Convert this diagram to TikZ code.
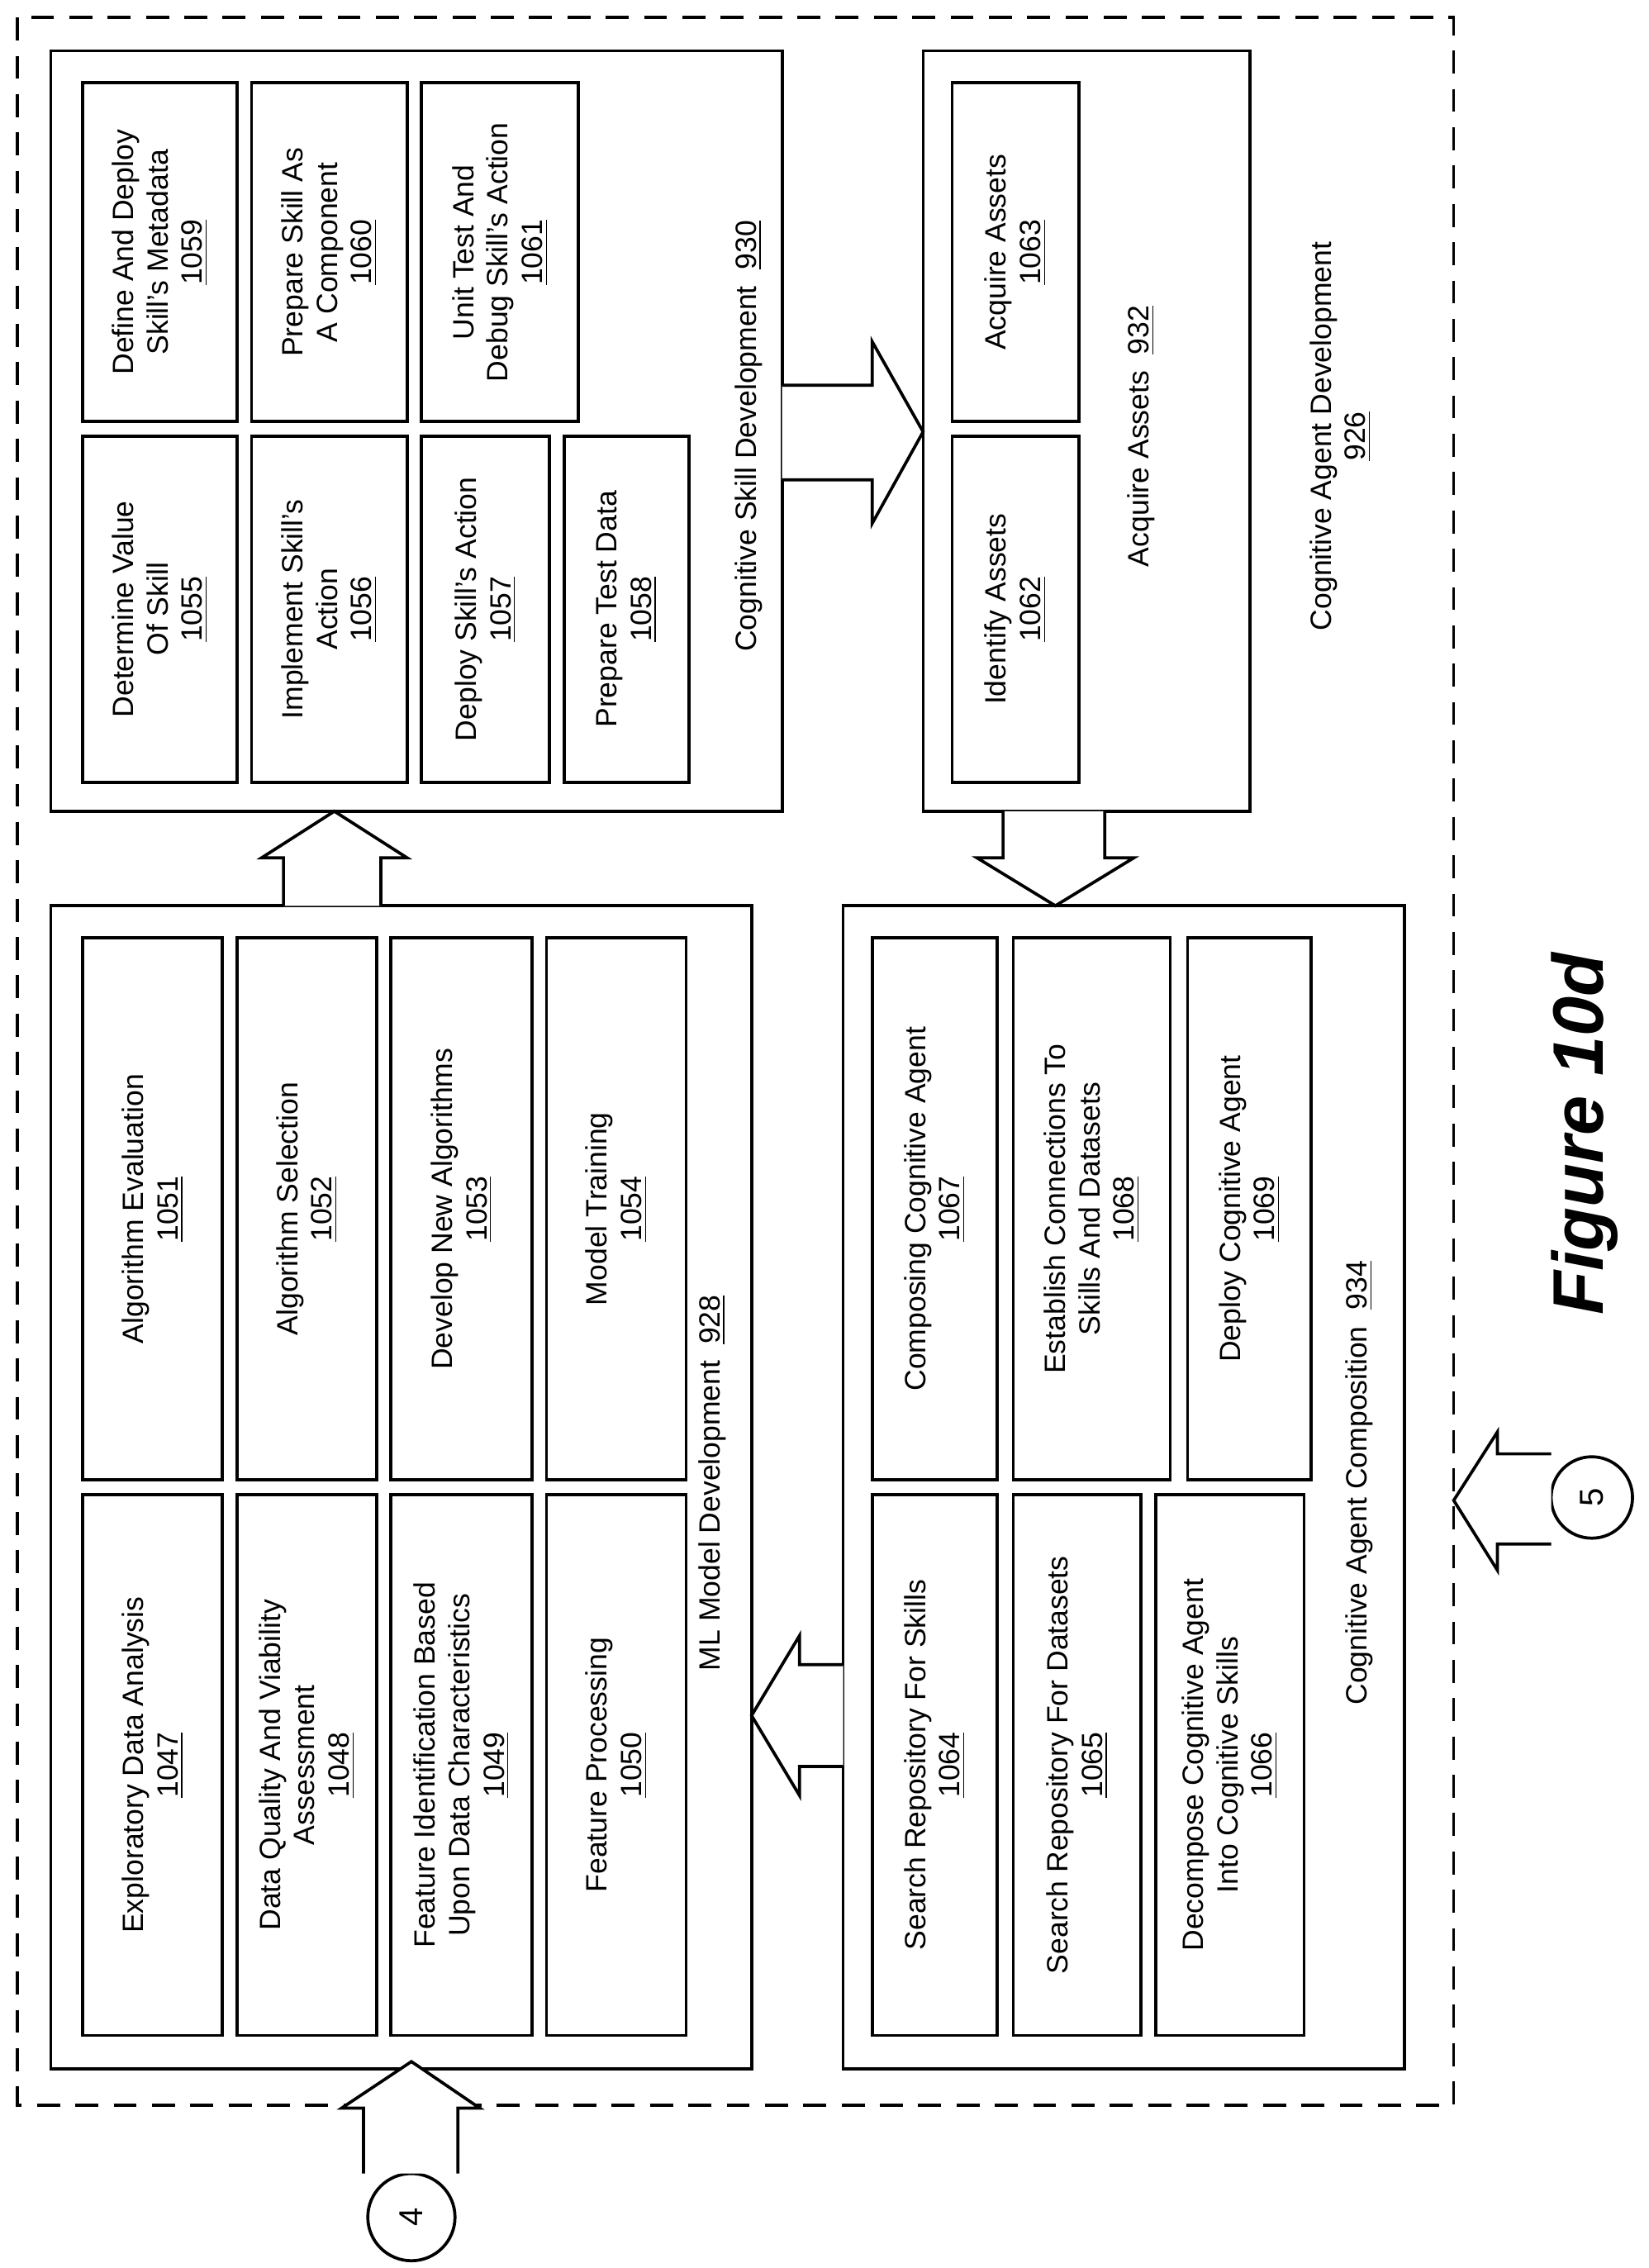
\documentclass[tikz,border=0pt]{standalone}
\usepackage{fontspec}
\setmainfont{Liberation Sans}
\begin{document}
\begin{tikzpicture}[x=0.02cm,y=-0.02cm,
 bx/.style={draw,line width=1.2pt,rotate=90,align=center,inner sep=0pt,font=\fontsize{11.5}{13.5}\selectfont},
 lbl/.style={rotate=90,align=center,font=\fontsize{11.5}{13.5}\selectfont},
 blk/.style={draw,line width=1.2pt,fill=white,line join=miter}]
\useasboundingbox (0,0) rectangle (1134,1560);
\newcommand\bx[6]{\pgfmathsetmacro\ww{(#5-#3)*0.02}\pgfmathsetmacro\hh{(#4-#2)*0.02}\node[bx,minimum width=\ww cm,minimum height=\hh cm] (#1) at ({(#2+#4)/2},{(#3+#5)/2}) {#6};}
% outer
\draw[line width=1.2pt,dash pattern=on 9pt off 6pt] (12,12) rectangle (1000,1448);
\node[lbl] (t926) at (922,300) {Cognitive Agent Development\\\underline{926}};
% ML
\bx{ml}{35}{623}{517}{1423}{}
\node[lbl] at (490,1020) {ML Model Development\ \ \underline{928}};
\bx{b1047}{57}{1028}{153}{1400}{Exploratory Data Analysis\\\underline{1047}}
\bx{b1048}{163}{1028}{259}{1400}{Data Quality And Viability\\Assessment\\\underline{1048}}
\bx{b1049}{269}{1028}{366}{1400}{Feature Identification Based\\Upon Data Characteristics\\\underline{1049}}
\bx{b1050}{376}{1028}{472}{1400}{Feature Processing\\\underline{1050}}
\bx{b1051}{57}{645}{153}{1018}{Algorithm Evaluation\\\underline{1051}}
\bx{b1052}{163}{645}{259}{1018}{Algorithm Selection\\\underline{1052}}
\bx{b1053}{269}{645}{366}{1018}{Develop New Algorithms\\\underline{1053}}
\bx{b1054}{376}{645}{472}{1018}{Model Training\\\underline{1054}}
% CSD
\bx{csd}{35}{35}{538}{558}{}
\node[lbl] at (515,300) {Cognitive Skill Development\ \ \underline{930}};
\bx{b1055}{57}{300}{163}{538}{Determine Value\\Of Skill\\\underline{1055}}
\bx{b1059}{57}{57}{163}{290}{Define And Deploy\\Skill's Metadata\\\underline{1059}}
\bx{b1056}{173}{300}{280}{538}{Implement Skill's\\Action\\\underline{1056}}
\bx{b1060}{173}{57}{280}{290}{Prepare Skill As\\A Component\\\underline{1060}}
\bx{b1057}{290}{300}{378}{538}{Deploy Skill's Action\\\underline{1057}}
\bx{b1061}{290}{57}{398}{290}{Unit Test And\\Debug Skill's Action\\\underline{1061}}
\bx{b1058}{388}{300}{474}{538}{Prepare Test Data\\\underline{1058}}
% Acquire
\bx{acq}{635}{35}{860}{558}{}
\node[lbl] at (785,300) {Acquire Assets\ \ \underline{932}};
\bx{b1062}{655}{300}{742}{538}{Identify Assets\\\underline{1062}}
\bx{b1063}{655}{57}{742}{290}{Acquire Assets\\\underline{1063}}
% CAC
\bx{cac}{580}{623}{966}{1423}{}
\node[lbl] at (935,1020) {Cognitive Agent Composition\ \ \underline{934}};
\bx{b1064}{600}{1028}{686}{1400}{Search Repository For Skills\\\underline{1064}}
\bx{b1065}{697}{1028}{785}{1400}{Search Repository For Datasets\\\underline{1065}}
\bx{b1066}{795}{1028}{897}{1400}{Decompose Cognitive Agent\\Into Cognitive Skills\\\underline{1066}}
\bx{b1067}{600}{645}{686}{1018}{Composing Cognitive Agent\\\underline{1067}}
\bx{b1068}{697}{645}{805}{1018}{Establish Connections To\\Skills And Datasets\\\underline{1068}}
\bx{b1069}{817}{645}{902}{1018}{Deploy Cognitive Agent\\\underline{1069}}
% block arrows
\draw[blk] (195,623)--(195,590)--(180,590)--(230,558)--(280,590)--(262,590)--(262,623);
\draw[blk] (538,265)--(600,265)--(600,235)--(635,297)--(600,360)--(600,330)--(538,330);
\draw[blk] (690,558)--(690,590)--(672,590)--(726,623)--(780,590)--(760,590)--(760,558);
\draw[blk] (580,1145)--(550,1145)--(550,1125)--(517,1180)--(550,1235)--(550,1215)--(580,1215);
% connectors
\node[draw,circle,line width=1.2pt,minimum size=1.2cm,inner sep=0pt,font=\fontsize{13}{15}\selectfont,rotate=90] (c4) at (283,1525) {4};
\node[draw,circle,line width=1.2pt,minimum size=1.12cm,inner sep=0pt,font=\fontsize{13}{15}\selectfont,rotate=90] (c5) at (1095,1030) {5};
\draw[blk] (250,1495)--(250,1450)--(235,1450)--(283,1418)--(330,1450)--(315,1450)--(315,1495);
\draw[blk] (1067,1000)--(1030,1000)--(1030,985)--(1000,1032)--(1030,1080)--(1030,1062)--(1067,1062);
\node[rotate=90,font=\fontsize{28}{30}\selectfont\bfseries\itshape] (fig) at (1090,780) {Figure 10d};
\end{tikzpicture}
\end{document}
